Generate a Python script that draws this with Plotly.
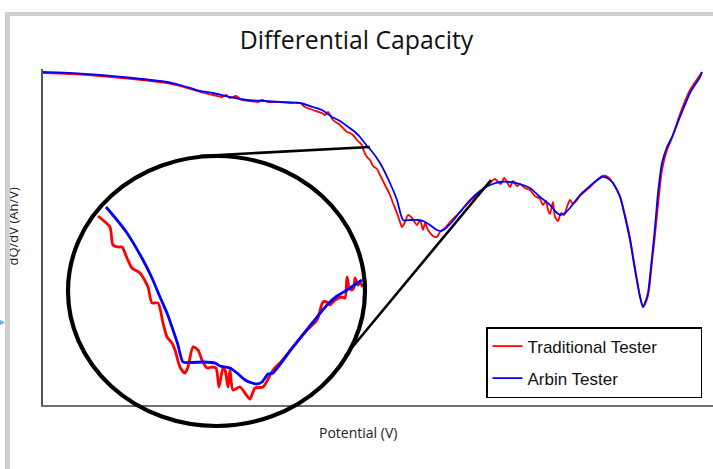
import plotly.graph_objects as go

# Main dQ/dV curves (potential in V, dQ/dV in Ah/V)
arbin_v = [3.000, 3.054, 3.114, 3.180, 3.248, 3.274, 3.314, 3.340, 3.374, 3.408,
           3.444, 3.474, 3.514, 3.540, 3.558, 3.578, 3.594, 3.608, 3.624, 3.634,
           3.648, 3.654, 3.674, 3.694, 3.708, 3.720, 3.734, 3.750, 3.760, 3.774,
           3.788, 3.796, 3.804, 3.810, 3.818, 3.834, 3.854, 3.874, 3.894, 3.914,
           3.934, 3.954, 3.974, 3.994, 4.014, 4.026, 4.034, 4.044, 4.054, 4.074,
           4.094, 4.106, 4.118, 4.128, 4.140, 4.154, 4.164, 4.174, 4.184, 4.194,
           4.200, 4.206, 4.210, 4.218, 4.224, 4.230, 4.238, 4.248, 4.258, 4.274,
           4.294, 4.314, 4.318]
arbin_q = [3.33, 3.32, 3.30, 3.27, 3.23, 3.20, 3.14, 3.12, 3.08, 3.05,
           3.04, 3.03, 3.02, 2.98, 2.95, 2.88, 2.84, 2.79, 2.73, 2.68,
           2.59, 2.56, 2.42, 2.22, 2.05, 1.85, 1.85, 1.85, 1.84, 1.80,
           1.75, 1.74, 1.76, 1.79, 1.83, 1.93, 2.05, 2.14, 2.20, 2.23,
           2.23, 2.21, 2.17, 2.08, 2.00, 1.93, 1.90, 1.92, 1.97, 2.10,
           2.19, 2.24, 2.28, 2.27, 2.22, 2.08, 1.88, 1.65, 1.35, 1.08,
           0.98, 1.05, 1.12, 1.48, 1.78, 2.12, 2.42, 2.58, 2.68, 2.88,
           3.12, 3.28, 3.33]

trad_v = [3.000, 3.054, 3.114, 3.180, 3.248, 3.274, 3.314, 3.340, 3.358, 3.366,
          3.374, 3.386, 3.398, 3.414, 3.430, 3.438, 3.450, 3.474, 3.494, 3.514,
          3.524, 3.540, 3.558, 3.564, 3.570, 3.574, 3.580, 3.594, 3.608, 3.614,
          3.620, 3.628, 3.638, 3.640, 3.648, 3.654, 3.660, 3.668, 3.674, 3.684,
          3.694, 3.700, 3.708, 3.714, 3.718, 3.724, 3.730, 3.738, 3.748, 3.754,
          3.760, 3.764, 3.770, 3.780, 3.788, 3.794, 3.804, 3.814, 3.834, 3.854,
          3.874, 3.884, 3.894, 3.904, 3.910, 3.916, 3.922, 3.928, 3.934, 3.940,
          3.948, 3.954, 3.964, 3.974, 3.984, 3.994, 4.000, 4.006, 4.010, 4.014,
          4.020, 4.024, 4.030, 4.036, 4.042, 4.048, 4.054, 4.060, 4.068, 4.074,
          4.094, 4.106, 4.118, 4.130, 4.140, 4.154, 4.164, 4.174, 4.184, 4.194,
          4.200, 4.206, 4.212, 4.218, 4.224, 4.230, 4.238, 4.248, 4.258, 4.274,
          4.294, 4.314, 4.318]
trad_q = [3.32, 3.31, 3.29, 3.26, 3.22, 3.19, 3.13, 3.10, 3.08, 3.10,
          3.07, 3.09, 3.05, 3.04, 3.03, 3.05, 3.03, 3.03, 3.02, 3.02,
          2.98, 2.95, 2.92, 2.90, 2.93, 2.90, 2.85, 2.80, 2.73, 2.72,
          2.70, 2.65, 2.60, 2.56, 2.48, 2.45, 2.39, 2.36, 2.30, 2.20,
          2.10, 2.02, 1.92, 1.83, 1.78, 1.83, 1.90, 1.87, 1.80, 1.85,
          1.75, 1.82, 1.75, 1.69, 1.68, 1.73, 1.77, 1.83, 1.93, 2.04,
          2.13, 2.18, 2.22, 2.26, 2.23, 2.21, 2.27, 2.23, 2.18, 2.24,
          2.19, 2.21, 2.17, 2.15, 2.09, 2.06, 2.00, 2.04, 1.95, 1.91,
          2.03, 1.88, 1.84, 1.92, 1.90, 1.98, 2.05, 2.01, 2.05, 2.09,
          2.18, 2.24, 2.29, 2.28, 2.22, 2.09, 1.90, 1.67, 1.37, 1.09,
          0.98, 1.03, 1.15, 1.43, 1.70, 2.00, 2.35, 2.55, 2.67, 2.91,
          3.15, 3.30, 3.33]

# Magnified view of the first valley, drawn inside the ellipse
inset_arbin_v = [3.126, 3.148, 3.168, 3.200, 3.218, 3.234, 3.248, 3.260, 3.270, 3.280,
                 3.320, 3.344, 3.354, 3.374, 3.388, 3.404, 3.418, 3.428, 3.438, 3.450,
                 3.460, 3.500, 3.540, 3.568, 3.588, 3.608, 3.638]
inset_arbin_q = [1.98, 1.85, 1.72, 1.45, 1.27, 1.08, 0.92, 0.75, 0.60, 0.43,
                 0.43, 0.42, 0.39, 0.37, 0.32, 0.25, 0.22, 0.21, 0.23, 0.31,
                 0.32, 0.58, 0.83, 1.00, 1.09, 1.15, 1.25]

inset_trad_v = [3.110, 3.122, 3.134, 3.140, 3.150, 3.158, 3.168, 3.178, 3.194, 3.210,
                3.218, 3.230, 3.240, 3.248, 3.258, 3.264, 3.274, 3.284, 3.290, 3.300,
                3.310, 3.318, 3.328, 3.338, 3.346, 3.352, 3.360, 3.364, 3.370, 3.374,
                3.380, 3.394, 3.404, 3.414, 3.424, 3.440, 3.460, 3.474, 3.500, 3.528,
                3.548, 3.560, 3.568, 3.574, 3.584, 3.598, 3.604, 3.608, 3.612, 3.618,
                3.622, 3.624, 3.630, 3.634, 3.640]
inset_trad_q = [1.89, 1.84, 1.78, 1.60, 1.58, 1.58, 1.47, 1.37, 1.32, 1.18,
                1.02, 1.02, 0.82, 0.68, 0.62, 0.55, 0.38, 0.32, 0.38, 0.58,
                0.55, 0.45, 0.37, 0.38, 0.37, 0.18, 0.37, 0.35, 0.18, 0.35,
                0.15, 0.18, 0.12, 0.06, 0.17, 0.18, 0.35, 0.42, 0.58, 0.75,
                0.85, 1.03, 1.03, 1.00, 1.05, 1.08, 1.07, 1.28, 1.18, 1.15,
                1.18, 1.27, 1.20, 1.22, 1.18]

series_names = ["Traditional Tester", "Arbin Tester"]
RED = "#ff0000"
BLUE = "#0000ff"
GRAY = "#cfcfcf"
PAD = "\u00a0" * 8  # widens the legend box

fig = go.Figure()

fig.add_trace(go.Scatter(x=trad_v, y=trad_q, mode="lines", name=series_names[0] + PAD,
                         line=dict(color=RED, width=1.8, shape="spline", smoothing=0.7),
                         legendgroup="a"))
fig.add_trace(go.Scatter(x=arbin_v, y=arbin_q, mode="lines", name=series_names[1],
                         line=dict(color=BLUE, width=1.8, shape="spline", smoothing=0.6),
                         legendgroup="b"))
fig.add_trace(go.Scatter(x=inset_trad_v, y=inset_trad_q, mode="lines", showlegend=False,
                         line=dict(color=RED, width=2.8, shape="spline", smoothing=0.7),
                         hoverinfo="skip"))
fig.add_trace(go.Scatter(x=inset_arbin_v, y=inset_arbin_q, mode="lines", showlegend=False,
                         line=dict(color=BLUE, width=2.8, shape="spline", smoothing=0.5),
                         hoverinfo="skip"))

shapes = [
    # magnifier ellipse and its two leader lines
    dict(type="circle", xref="x", yref="paper", x0=3.050, x1=3.644, y0=-0.0625, y1=0.741,
         line=dict(color="black", width=4.2)),
    dict(type="line", xref="x", yref="y", x0=3.314, y0=2.49, x1=3.654, y1=2.58,
         line=dict(color="black", width=2.6)),
    dict(type="line", xref="x", yref="y", x0=3.604, y0=0.49, x1=3.896, y1=2.25,
         line=dict(color="black", width=2.6)),
    # page frame
    dict(type="rect", xref="paper", yref="paper", x0=-0.0567, x1=1.01, y0=1.1577, y1=1.1696,
         line=dict(width=0), fillcolor=GRAY),
    dict(type="rect", xref="paper", yref="paper", x0=-0.0567, x1=-0.0493, y0=-0.2, y1=1.1696,
         line=dict(width=0), fillcolor=GRAY),
    dict(type="path", xref="paper", yref="paper",
         path="M -0.07,0.2589 L -0.0567,0.2455 L -0.07,0.2321 Z",
         line=dict(width=0), fillcolor="#5ab4e4"),
]

annotations = [
    dict(text="Potential (V)", xref="paper", yref="paper", x=0.470, y=-0.0833,
         xanchor="center", yanchor="middle", showarrow=False,
         font=dict(family="Open Sans", size=14, color="#222222")),
    dict(text="dQ/dV (Ah/V)", xref="paper", yref="paper", x=-0.0455, y=0.5298,
         xanchor="center", yanchor="middle", showarrow=False, textangle=-90,
         font=dict(family="Open Sans", size=13, color="#222222")),
    # frame strip over the clipped axis label
    dict(text=" ", xref="paper", yref="paper", x=-0.0530, y=0.5298,
         xanchor="center", yanchor="middle", showarrow=False,
         width=5, height=130, bgcolor=GRAY, borderpad=0, borderwidth=0,
         font=dict(size=4)),
]

fig.update_layout(
    width=713, height=469,
    margin=dict(l=43, r=0, t=69, b=64),
    paper_bgcolor="white", plot_bgcolor="white",
    title=dict(text="Differential Capacity", xref="container", x=0.5, xanchor="center",
               yref="container", y=0.915, yanchor="middle",
               font=dict(family="Open Sans", size=24.8, color="#111111")),
    xaxis=dict(range=[3.000, 4.340], showline=True, linecolor="#707070", linewidth=2,
               showticklabels=False, ticks="", showgrid=False, zeroline=False),
    yaxis=dict(range=[0, 3.36], showline=True, linecolor="#555555", linewidth=1.5,
               showticklabels=False, ticks="", showgrid=False, zeroline=False),
    showlegend=True,
    legend=dict(x=0.6612, y=0.2321, xanchor="left", yanchor="top",
                bgcolor="white", bordercolor="black", borderwidth=1.5,
                font=dict(family="Liberation Sans, Arial", size=17, color="#111111"),
                traceorder="grouped", tracegroupgap=7, itemwidth=30),
    shapes=shapes,
    annotations=annotations,
)

fig.write_html("out.html")
